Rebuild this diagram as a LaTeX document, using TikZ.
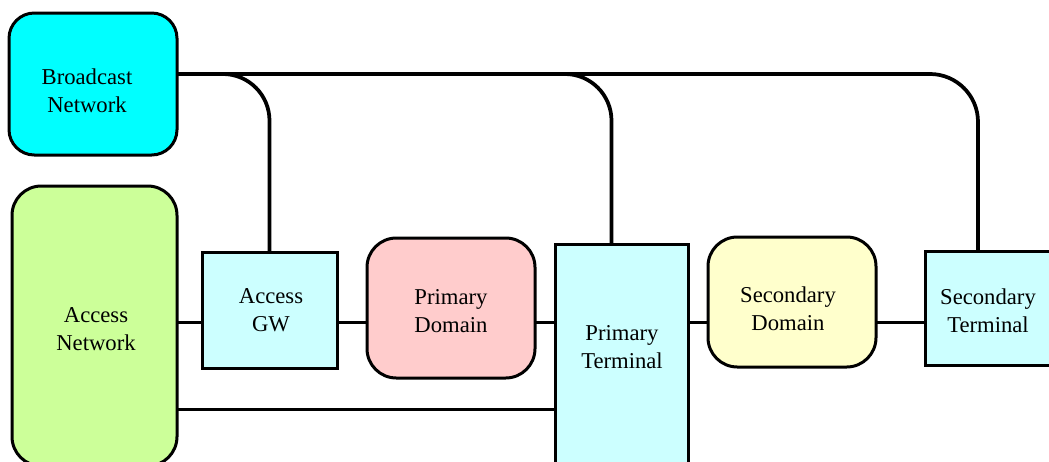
\documentclass[tikz,border=0pt]{standalone}
\usepackage{fontspec}
\setmainfont{Liberation Serif}
\usetikzlibrary{calc}
\begin{document}
\begin{tikzpicture}[x=0.75pt,y=-0.75pt,
  box/.style={draw=black,line width=2.25pt,inner sep=0pt,outer sep=0pt},
  roundbox/.style={box,rounded corners=21pt},
  label/.style={font=\fontsize{17}{21}\selectfont,align=center,inner sep=0pt},
  wire/.style={draw=black,line width=2.25pt},
  drop/.style={draw=black,line width=2.8pt,rounded corners=35pt}]
\definecolor{bcast}{HTML}{00FFFF}
\definecolor{accnet}{HTML}{CCFF99}
\definecolor{term}{HTML}{CCFFFF}
\definecolor{pdom}{HTML}{FFCCCC}
\definecolor{sdom}{HTML}{FFFFCC}
\useasboundingbox (0,0) rectangle (1049,461);
\clip (0,0) rectangle (1049,461);

% boxes
\node[roundbox,fill=bcast,minimum width=126pt,minimum height=106.5pt,rounded corners=19pt] (bn) at (93,84) {};
\node[roundbox,fill=accnet,minimum width=123.75pt,minimum height=210pt,rounded corners=22pt] (an) at (94.5,326) {};
\node[box,fill=term,minimum width=101.25pt,minimum height=87pt] (gw) at (269.5,310) {};
\node[roundbox,fill=pdom,minimum width=126pt,minimum height=105pt,rounded corners=22pt] (pd) at (451,308) {};
\node[box,fill=term,minimum width=99.75pt,minimum height=177pt] (pt) at (622,362) {};
\node[roundbox,fill=sdom,minimum width=126pt,minimum height=97.5pt,rounded corners=22pt] (sd) at (792,302) {};
\node[box,fill=term,minimum width=116.25pt,minimum height=85.5pt] (st) at (1002.5,308) {};

% texts
\node[label] (bnt) at (87,90.5) {Broadcast\\Network};
\node[label] (ant) at (96,329.5) {Access\\Network};
\node[label] (gwt) at (271,310.5) {Access\\GW};
\node[label] (pdt) at (451,311.5) {Primary\\Domain};
\node[label] (ptt) at (622,347.5) {Primary\\Terminal};
\node[label] (sdt) at (788,308.5) {Secondary\\Domain};
\node[label] (stt) at (988,310.5) {Secondary\\Terminal};

% helper coordinates
\coordinate (bus0) at (177,74);
\coordinate (row) at (0,322);
\coordinate (row2) at (0,409);
\coordinate (pttop) at ($(pt.north west)+(56,0)$);
\coordinate (sttop) at ($(st.north west)+(53,0)$);

% broadcast bus and drops
\draw[drop] (gw.north) |- (bus0);
\draw[drop] (pttop) |- (bus0);
\draw[drop,rounded corners=36pt] (bus0) -| (sttop);
\draw[wire] (bus0) -- (600,74);

% chain along the middle row
\draw[wire] (an.east |- row) -- (gw.west |- row);
\draw[wire] (gw.east |- row) -- (pd.west |- row);
\draw[wire] (pd.east |- row) -- (pt.west |- row);
\draw[wire] (pt.east |- row) -- (sd.west |- row);
\draw[wire] (sd.east |- row) -- (st.west |- row);

% lower link
\draw[wire] (an.east |- row2) -- (pt.west |- row2);
\end{tikzpicture}
\end{document}
